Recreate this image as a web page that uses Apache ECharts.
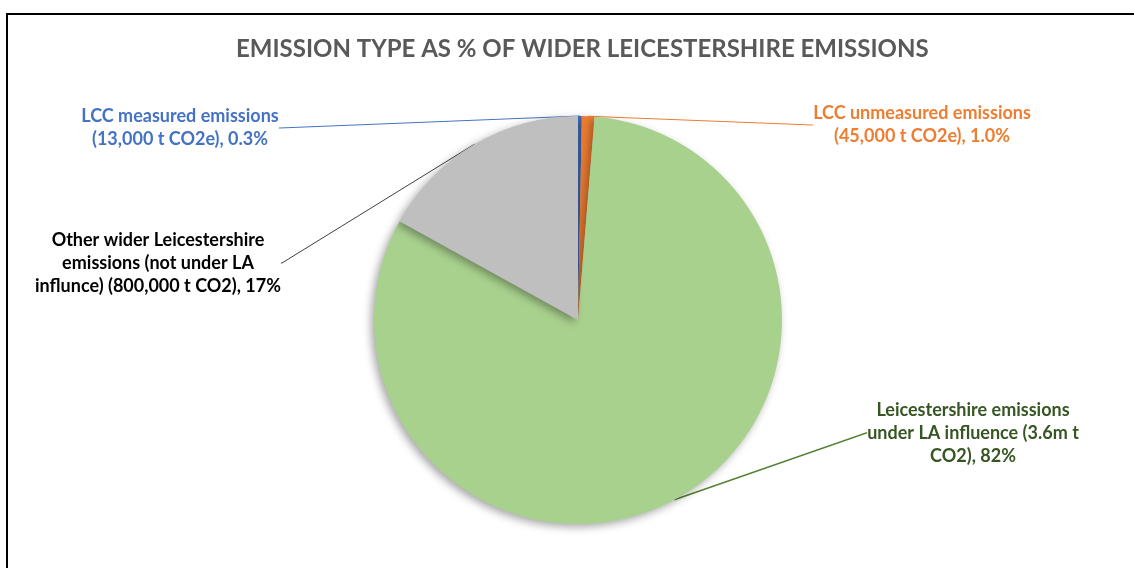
<!DOCTYPE html>
<html><head><meta charset="utf-8">
<script src="https://cdn.jsdelivr.net/npm/echarts@6/dist/echarts.min.js"></script>
<style>html,body{margin:0;padding:0;background:#fff}#c{width:1134px;height:568px}</style>
</head><body><div id="c"></div>
<script>
const categories = ['LCC measured emissions', 'LCC unmeasured emissions', 'Leicestershire emissions under LA influence', 'Other wider Leicestershire emissions (not under LA influnce)'];
const values = [0.3, 1.0, 82, 17];
const labelTexts = [
  'LCC measured emissions\n(13,000 t CO2e), 0.3%',
  'LCC unmeasured emissions\n(45,000 t CO2e), 1.0%',
  'Leicestershire emissions\nunder LA influence (3.6m t\nCO2), 82%',
  'Other wider Leicestershire\nemissions (not under LA\ninflunce) (800,000 t CO2), 17%'
];
const colors = ['#4472C4', '#ED7D31', '#A9D18E', '#BFBFBF'];
const labelColors = ['#4472C4', '#ED7D31', '#375623', '#000000'];
const lineColors = ['#4472C4', '#ED7D31', '#548235', '#404040'];
const labelPos = [[180, 128], [922, 125], [973, 433], [158, 263]];

const chart = echarts.init(document.getElementById('c'));
chart.setOption({
  animation: false,
  title: {
    text: 'EMISSION TYPE AS % OF WIDER LEICESTERSHIRE EMISSIONS',
    left: 231, top: 32,
    textStyle: {fontFamily: 'Lato', fontWeight: 'bold', fontSize: 24, color: '#595959'}
  },
  graphic: [{
    type: 'rect', shape: {x: 7, y: 14, width: 1140, height: 570},
    style: {fill: 'none', stroke: '#000', lineWidth: 2}, silent: true
  }],
  series: [{
    type: 'pie',
    center: [578, 320],
    radius: 204,
    startAngle: 90,
    clockwise: true,
    data: categories.map((c, i) => ({
      name: c, value: values[i],
      itemStyle: {color: colors[i]},
      label: {color: labelColors[i], formatter: labelTexts[i]},
      labelLine: {lineStyle: {color: lineColors[i], width: i === 2 ? 1.5 : 1}}
    })),
    itemStyle: {shadowBlur: 8, shadowColor: 'rgba(0,0,0,0.35)', shadowOffsetX: -3, shadowOffsetY: 3},
    label: {
      show: true, position: 'outside',
      fontFamily: 'Lato', fontWeight: 'bold', fontSize: 18, lineHeight: 23, align: 'center'
    },
    labelLine: {show: true, length: 1, length2: 1, smooth: false},
    labelLayout: function (p) {
      const pos = labelPos[p.dataIndex];
      return {x: pos[0], y: pos[1], align: 'center', verticalAlign: 'middle'};
    }
  }]
});
</script></body></html>
